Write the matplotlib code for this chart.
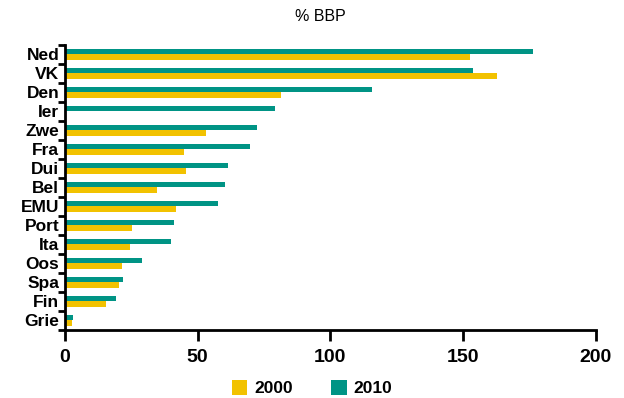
import matplotlib
matplotlib.use("Agg")
import matplotlib.pyplot as plt
import numpy as np

plt.rcParams['font.family'] = ['Liberation Sans', 'DejaVu Sans']

countries = ["Ned", "VK", "Den", "Ier", "Zwe", "Fra", "Dui", "Bel",
             "EMU", "Port", "Ita", "Oos", "Spa", "Fin", "Grie"]
values_2000 = [152.5, 162.7, 81.4, 0.0, 53.1, 44.8, 45.6, 34.7,
               41.8, 25.2, 24.5, 21.5, 20.3, 15.4, 2.6]
values_2010 = [176.3, 153.7, 115.6, 79.1, 72.3, 69.7, 61.4, 60.3,
               57.6, 41.1, 39.9, 29.0, 21.8, 19.2, 3.0]
x_ticks = [0, 50, 100, 150, 200]

teal = "#009485"
yellow = "#F2C200"

fig = plt.figure(figsize=(6.24, 3.98), dpi=100)
ax = fig.add_axes([0.104, 0.171, 0.851, 0.716])

y = np.arange(len(countries))
h = 0.27
ax.barh(y - h / 2, values_2010, height=h, color=teal, label="2010")
ax.barh(y + h / 2, values_2000, height=h, color=yellow, label="2000")

ax.set_ylim(len(countries) - 0.5, -0.5)
ax.set_xlim(0, 200)

ax.set_yticks(y)
ax.set_yticklabels(countries, fontsize=12.5, fontweight="bold")
ax.tick_params(axis="y", which="major", length=0, pad=4)
ax.set_yticks(np.arange(-0.5, len(countries), 1), minor=True)
ax.tick_params(axis="y", which="minor", length=5, width=2, direction="out")

ax.set_xticks(x_ticks)
ax.set_xticklabels([str(v) for v in x_ticks], fontsize=14, fontweight="bold")
ax.tick_params(axis="x", length=8, width=2, direction="out", pad=6)

for side in ("top", "right"):
    ax.spines[side].set_visible(False)
for side in ("left", "bottom"):
    ax.spines[side].set_linewidth(2)

ax.set_title("% BBP", fontsize=11.5, pad=17, x=0.481)

handles, labels = ax.get_legend_handles_labels()
fig.legend(handles[::-1], labels[::-1], loc="lower center", ncol=2,
           bbox_to_anchor=(0.5, -0.035), frameon=False,
           prop={"weight": "bold", "size": 12.5},
           handlelength=0.9, handleheight=0.9, columnspacing=2.2,
           handletextpad=0.4)

fig.savefig("out.png", dpi=100)
